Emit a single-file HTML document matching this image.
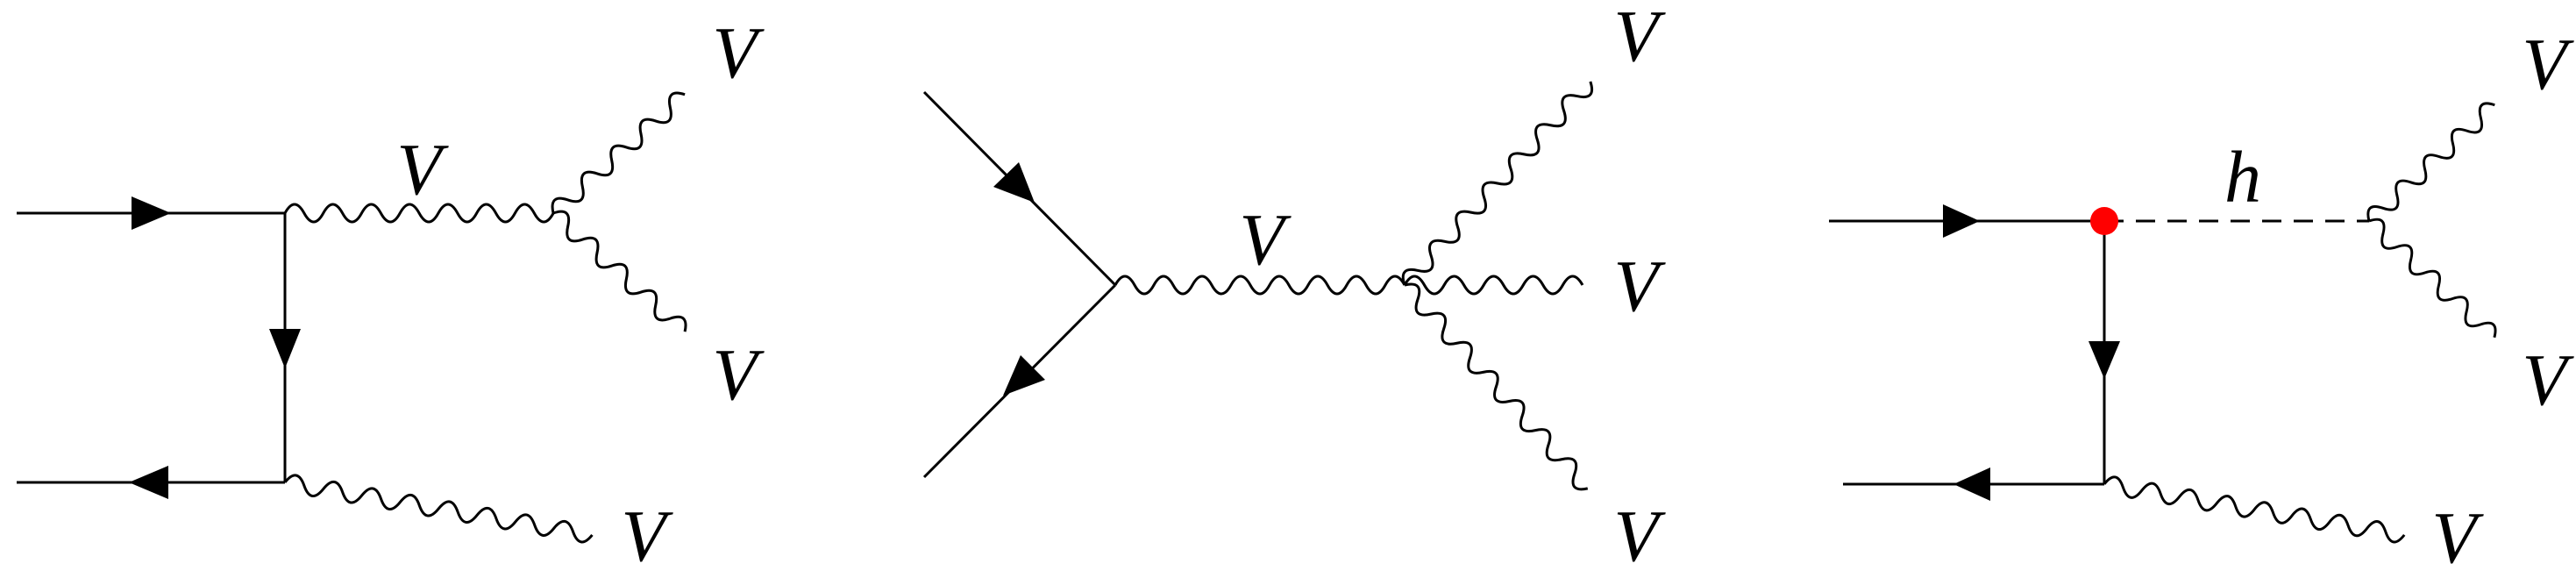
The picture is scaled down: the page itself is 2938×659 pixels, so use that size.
<!DOCTYPE html>
<html><head><meta charset="utf-8"><style>html,body{margin:0;padding:0;background:#fff}svg{display:block}text{font-family:"Liberation Serif",serif;font-style:italic;font-size:84px;fill:#000}</style></head>
<body>
<svg width="2938" height="659" viewBox="0 0 2938 659" xmlns="http://www.w3.org/2000/svg">
<defs>
<path id="w9" d="M0 0 q11 -20 22 0 t22 0 t22 0 t22 0 t22 0 t22 0 t22 0 t22 0 t22 0"/>
<path id="w14" d="M0 0 q11 -20 22 0 t22 0 t22 0 t22 0 t22 0 t22 0 t22 0 t22 0 t22 0 t22 0 t22 0 t22 0 t22 0 t22 0"/>
<path id="w15" d="M0 0 q11 -20 22 0 t22 0 t22 0 t22 0 t22 0 t22 0 t22 0 t22 0 t22 0 t22 0 t22 0 t22 0 t22 0 t22 0 t22 0"/>
<path id="w16" d="M0 0 q11 -20 22 0 t22 0 t22 0 t22 0 t22 0 t22 0 t22 0 t22 0 t22 0 t22 0 t22 0 t22 0 t22 0 t22 0 t22 0 t22 0"/>
</defs>
<g stroke="#000" stroke-width="3" fill="none">
<line x1="19" y1="243" x2="325" y2="243"/>
<line x1="325" y1="243" x2="325" y2="550"/>
<line x1="19" y1="550" x2="325" y2="550"/>
<use href="#w14" transform="translate(325,243) scale(0.994,1)"/>
<use href="#w9" transform="translate(631,243) rotate(-42) scale(1.02,1)"/>
<use href="#w9" transform="translate(631,243) rotate(42) scale(1.02,1)"/>
<use href="#w16" transform="translate(325,550) rotate(9.7) scale(1.01,1)"/>
<line x1="1054" y1="105" x2="1272" y2="325"/>
<line x1="1272" y1="325" x2="1054" y2="544"/>
<use href="#w15" transform="translate(1272,325) scale(1.0,1)"/>
<use href="#w9" transform="translate(1602,325) scale(1.025,1)"/>
<use href="#w14" transform="translate(1602,325) rotate(-47.6) scale(1.02,1)"/>
<use href="#w14" transform="translate(1602,325) rotate(48) scale(1.013,1)"/>
<line x1="2086" y1="252" x2="2400" y2="252"/>
<line x1="2400" y1="252" x2="2702" y2="252" stroke-dasharray="22,14"/>
<line x1="2400" y1="252" x2="2400" y2="552"/>
<line x1="2102" y1="552" x2="2400" y2="552"/>
<use href="#w9" transform="translate(2702,252) rotate(-42.7) scale(0.985,1)"/>
<use href="#w9" transform="translate(2702,252) rotate(42.9) scale(0.985,1)"/>
<use href="#w16" transform="translate(2400,552) rotate(9.6) scale(0.986,1)"/>
</g>
<g fill="#000">
<polygon points="150,224 195,243 150,262"/>
<polygon points="307,375 343,375 325,420"/>
<polygon points="192,531 147,550 192,569"/>
<polygon points="1133,213 1162,185 1180,231"/>
<polygon points="1164,405 1192,433 1144,451"/>
<polygon points="2216,233 2258,252 2216,271"/>
<polygon points="2382,389 2418,389 2400,432"/>
<polygon points="2270,533 2228,552 2270,571"/>
</g>
<circle cx="2400" cy="252" r="16" fill="#f00"/>
<text x="838" y="88" text-anchor="middle">V</text>
<text x="478" y="221" text-anchor="middle">V</text>
<text x="838" y="455" text-anchor="middle">V</text>
<text x="734" y="639" text-anchor="middle">V</text>
<text x="1866" y="69" text-anchor="middle">V</text>
<text x="1439" y="301" text-anchor="middle">V</text>
<text x="1866" y="354" text-anchor="middle">V</text>
<text x="1866" y="639" text-anchor="middle">V</text>
<text x="2558" y="230" text-anchor="middle">h</text>
<text x="2902" y="101" text-anchor="middle">V</text>
<text x="2902" y="461" text-anchor="middle">V</text>
<text x="2799" y="641" text-anchor="middle">V</text>
</svg>
</body></html>
